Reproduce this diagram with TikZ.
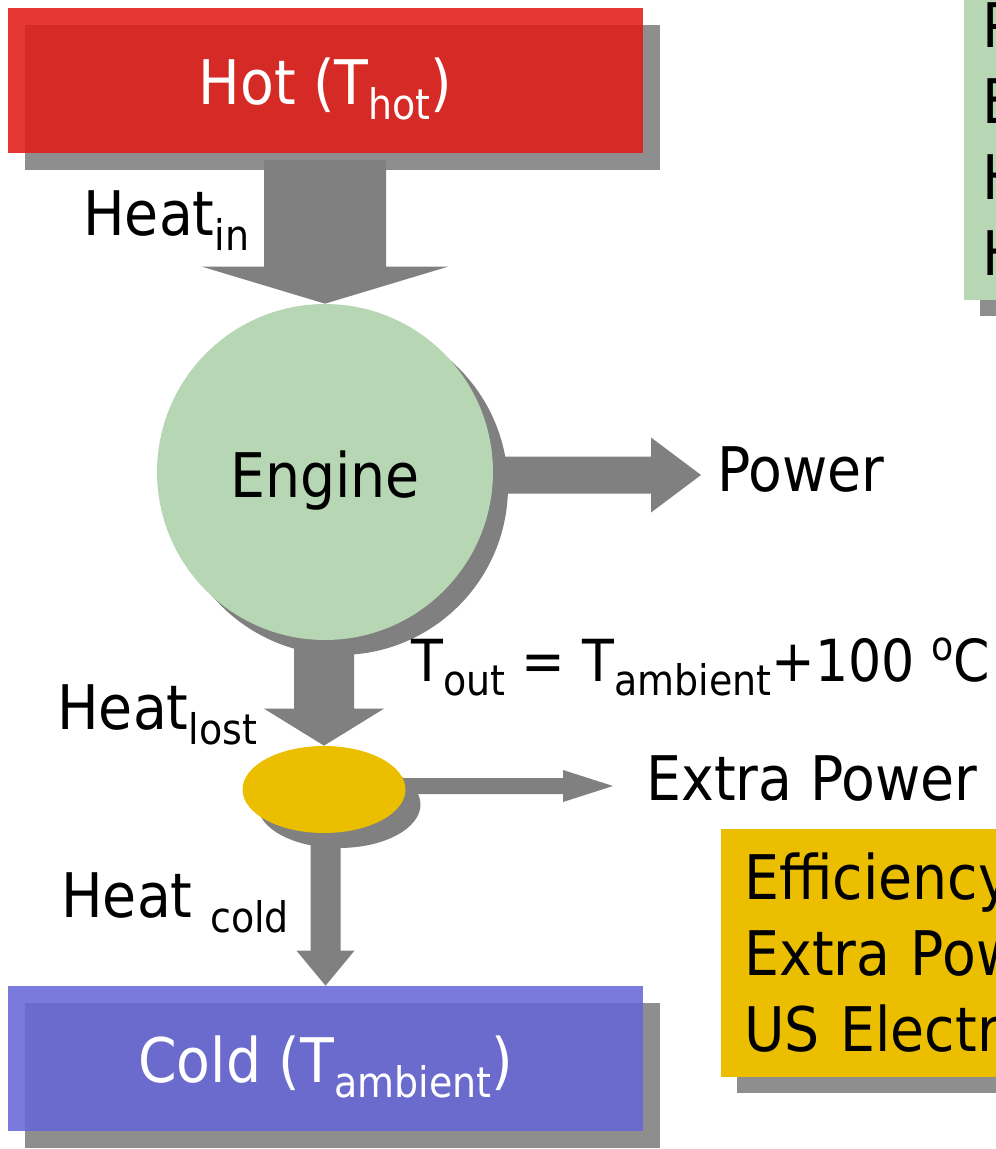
\documentclass[tikz,border=0pt]{standalone}
\usepackage{fontspec}
\setmainfont{DejaVu Sans}[FakeStretch=0.9]
\usetikzlibrary{calc,shadows,shapes.geometric,backgrounds}
\definecolor{hotred}{RGB}{225,28,24}
\definecolor{coldblue}{RGB}{103,103,215}
\definecolor{sage}{RGB}{182,214,180}
\definecolor{gold}{RGB}{235,191,0}
\definecolor{shadowgray}{RGB}{142,142,142}
\definecolor{flowgray}{RGB}{128,128,128}
\tikzset{
  flow/.style={fill=flowgray},
  lbl/.style={font=\fontsize{35}{42}\selectfont,inner sep=0pt},
  reservoir/.style={fill=#1,fill opacity=0.875,text opacity=1,text=white,
    minimum width=12.7cm,minimum height=2.9cm,font=\fontsize{35}{42}\selectfont,
    text height=0.95cm,text depth=0pt,
    drop shadow={shadow xshift=0.34cm,shadow yshift=-0.34cm,fill=shadowgray,opacity=1}},
  notebox/.style={fill=#1,align=left,text width=6cm,inner xsep=0.46cm,inner ysep=0.48cm,
    font=\fontsize{35}{43.2}\selectfont,
    drop shadow={shadow xshift=0.32cm,shadow yshift=-0.32cm,fill=shadowgray,opacity=1}},
  disc/.style={fill=#1,inner sep=0pt,
    drop shadow={shadow xshift=0.3cm,shadow yshift=-0.3cm,fill=flowgray,opacity=1}},
}
% block arrows: from, tip, shaft half width, head half width, head length
\newcommand{\fatdown}[5]{%
  \fill[flow] ($(#2 |- #1)+(-#3,0)$) -- ($(#2 |- #1)+(#3,0)$) -- ($(#2)+(#3,-#5)$)
    -- ($(#2)+(#4,-#5)$) -- (#2) -- ($(#2)+(-#4,-#5)$) -- ($(#2)+(-#3,-#5)$) -- cycle;}
\newcommand{\fatright}[5]{%
  \fill[flow] ($(#2 -| #1)+(0,-#3)$) -- ($(#2)+(-#5,-#3)$) -- ($(#2)+(-#5,-#4)$)
    -- (#2) -- ($(#2)+(-#5,#4)$) -- ($(#2)+(-#5,#3)$) -- ($(#2 -| #1)+(0,#3)$) -- cycle;}
\newcommand{\lowtext}[1]{\raisebox{-0.25em}{\fontsize{24}{24}\selectfont #1}}
\newcommand{\hightext}[1]{\raisebox{0.36em}{\fontsize{23}{23}\selectfont #1}}

\begin{document}
\begin{tikzpicture}[x=0.02cm,y=-0.02cm]
  \path[use as bounding box,clip] (0,0) rectangle (996,1149);

  % reservoirs and engine
  \node[reservoir=hotred] (hot) at (325.5,80.5) {Hot (T\lowtext{hot})};
  \node[disc=sage,circle,minimum size=6.72cm,font=\fontsize{35}{42}\selectfont,
    text height=1cm,text depth=0pt] (engine) at (325,472) {Engine};
  \node[disc=gold,ellipse,minimum width=3.26cm,minimum height=1.74cm] (lost) at (324,789.5) {};
  \node[reservoir=coldblue] (cold) at (325.5,1058.5) {Cold (T\lowtext{ambient})};

  % side notes, cut by the slide edge
  \node[notebox=sage,anchor=south west,inner xsep=0.36cm] (facts) at (964,300) {P\\E\\H\\H};
  \node[notebox=gold,anchor=south west] (gain) at (721,1077) {Efficiency\\Extra Pow\\US Electr};

  % labels
  \node[lbl,anchor=base west] (heatin) at (83,235) {Heat\lowtext{in}};
  \node[lbl,anchor=base west] (power) at (717,491) {Power};
  \node[lbl,anchor=base west,font=\fontsize{33}{42}\selectfont] (tout) at (411,681)
    {T\lowtext{out} = T\lowtext{ambient}+100 \hightext{o}C};
  \node[lbl,anchor=base west] (heatlost) at (57,729) {Heat\lowtext{lost}};
  \node[lbl,anchor=base west] (extra) at (646,800) {Extra Power};
  \node[lbl,anchor=base west] (heatcold) at (61,917) {Heat \lowtext{cold}};

  \coordinate (intop) at (322,160);
  \coordinate (pwrtip) at (701,475);
  \coordinate (xtip) at (613,786);

  % heat flows
  \fatdown{intop}{engine.north}{61}{123}{37}
  \begin{scope}[on background layer]
    \fatright{engine.center}{pwrtip}{18.5}{37.5}{50}
    \fatdown{engine.center}{lost.north}{30}{60}{37}
    \fatright{lost.center}{xtip}{8}{16}{50}
    \fatdown{lost.center}{cold.north}{15}{29}{35}
  \end{scope}
\end{tikzpicture}
\end{document}
